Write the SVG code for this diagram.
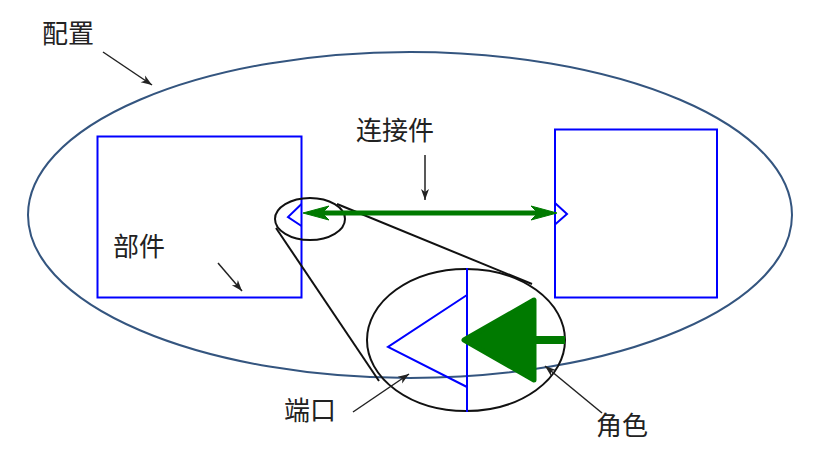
<svg xmlns="http://www.w3.org/2000/svg" width="835" height="460" viewBox="0 0 835 460">
<style>
.lbl{font-family:"Noto Sans CJK SC","Noto Sans",sans-serif;font-size:26px;fill:#222}
.blue{fill:none;stroke:#0000ff;stroke-width:2}
.blk{fill:none;stroke:#111;stroke-width:2}
.ptr{fill:none;stroke:#222;stroke-width:1.5}
.grn{fill:#007a00;stroke:#007a00}
</style>
<defs>
<marker id="ah" markerUnits="userSpaceOnUse" markerWidth="12" markerHeight="10" viewBox="0 0 12 10" refX="11" refY="5" orient="auto">
<path d="M0,1 L11,5 L0,9 L3,5 Z" fill="#222"/>
</marker>
</defs>
<rect width="835" height="460" fill="#fff"/>
<g id="configuration">
<ellipse cx="410" cy="215" rx="382" ry="163" fill="none" stroke="#34557f" stroke-width="2"/>
</g>
<g id="part-left">
<rect x="97.5" y="136.5" width="204" height="161" class="blue"/>
<polyline points="301.5,204 288,217 301.5,226" class="blue"/>
</g>
<g id="part-right">
<rect x="555" y="129.5" width="162" height="168" class="blue"/>
<polyline points="555,203 567,214 555,224.5" class="blue"/>
</g>
<g id="magnifier">
<ellipse cx="310" cy="219" rx="35" ry="21" class="blk"/>
<line x1="337" y1="204" x2="532" y2="284" class="blk"/>
<line x1="276" y1="228" x2="379" y2="381" class="blk"/>
<ellipse cx="466" cy="340" rx="99" ry="71" fill="#fff" class="blk"/>
<line x1="467" y1="268" x2="467" y2="412" class="blue"/>
<polyline points="467,295 388,347 467,387" class="blue"/>
<path d="M464,340 L534,300 L534,380 Z" class="grn" stroke-width="5" stroke-linejoin="round"/>
<line x1="534" y1="340" x2="565" y2="340" stroke="#007a00" stroke-width="8"/>
</g>
<g id="connectors">
<line x1="320" y1="213" x2="540" y2="213" stroke="#007a00" stroke-width="5"/>
<path d="M303,213 L329,206 L322,213 L329,220 Z" class="grn" stroke-width="1"/>
<path d="M557,213 L531,206 L538,213 L531,220 Z" class="grn" stroke-width="1"/>
<line x1="103" y1="52" x2="152" y2="85" class="ptr" marker-end="url(#ah)"/>
<line x1="218" y1="263" x2="242" y2="291" class="ptr" marker-end="url(#ah)"/>
<line x1="425" y1="155" x2="425" y2="200" class="ptr" marker-end="url(#ah)"/>
<line x1="353" y1="412" x2="409" y2="374" class="ptr" marker-end="url(#ah)"/>
<line x1="602" y1="413" x2="545" y2="366" class="ptr" marker-end="url(#ah)"/>
</g>
<g id="labels">
<text x="42" y="43" class="lbl">配置</text>
<text x="113" y="256" class="lbl">部件</text>
<text x="356" y="140" class="lbl">连接件</text>
<text x="284" y="420" class="lbl">端口</text>
<text x="596" y="435" class="lbl">角色</text>
</g>
</svg>
